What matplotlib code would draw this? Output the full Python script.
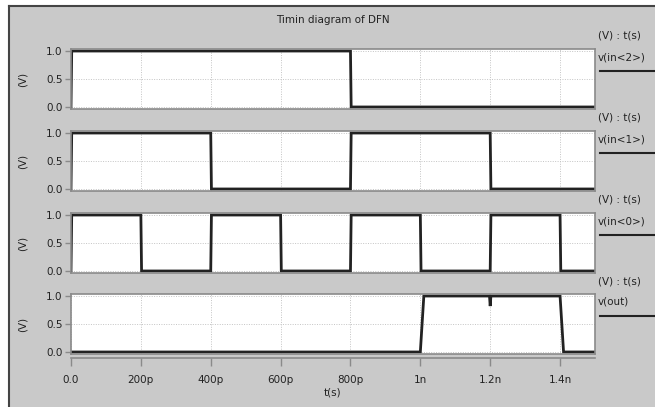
import matplotlib
matplotlib.use("Agg")
import matplotlib.pyplot as plt
from matplotlib.patches import Rectangle
from matplotlib.lines import Line2D

plt.rcParams['font.family'] = ['DejaVu Sans']

title = "Timin diagram of DFN"
signal_names = ["v(in<2>)", "v(in<1>)", "v(in<0>)", "v(out)"]

# time (s) and voltage (V) points of each waveform
t_in2 = [0, 2e-12, 800e-12, 802e-12, 1.5e-9]
v_in2 = [0, 1, 1, 0, 0]

t_in1 = [0, 2e-12, 400e-12, 402e-12, 800e-12, 802e-12, 1200e-12, 1202e-12, 1.5e-9]
v_in1 = [0, 1, 1, 0, 0, 1, 1, 0, 0]

t_in0 = [0, 2e-12, 200e-12, 202e-12, 400e-12, 402e-12, 600e-12, 602e-12,
         800e-12, 802e-12, 1000e-12, 1002e-12, 1200e-12, 1202e-12,
         1400e-12, 1402e-12, 1.5e-9]
v_in0 = [0, 1, 1, 0, 0, 1, 1, 0, 0, 1, 1, 0, 0, 1, 1, 0, 0]

t_out = [0, 1000e-12, 1010e-12, 1198e-12, 1200e-12, 1202e-12, 1400e-12, 1410e-12, 1.5e-9]
v_out = [0, 0, 1, 1, 0.82, 1, 1, 0, 0]

series = [(t_in2, v_in2), (t_in1, v_in1), (t_in0, v_in0), (t_out, v_out)]

x_ticks = [0, 200e-12, 400e-12, 600e-12, 800e-12, 1e-9, 1.2e-9, 1.4e-9]
x_tick_labels = ["0.0", "200p", "400p", "600p", "800p", "1n", "1.2n", "1.4n"]
y_ticks = [0.0, 0.5, 1.0]
y_tick_labels = ["0.0", "0.5", "1.0"]

W, H = 655, 407
fig = plt.figure(figsize=(W / 100, H / 100), dpi=100)
fig.patch.set_facecolor("white")

# gray window background with dark top/left border
bg = Rectangle((9 / W, 0), 1 - 9 / W, (H - 6) / H, transform=fig.transFigure,
               facecolor="#c9c9c9", edgecolor="none", zorder=-10)
fig.patches.append(bg)
fig.add_artist(Line2D([9 / W, 9 / W], [0, (H - 6) / H], color="#444444", lw=1.5,
                      transform=fig.transFigure))
fig.add_artist(Line2D([9 / W, 1], [(H - 6) / H, (H - 6) / H], color="#444444", lw=1.5,
                      transform=fig.transFigure))

left_px, right_px = 71, 595
tops = [49, 131, 213, 294]
ph = 60
gray = "#8a8a8a"
txt = "#222222"
fs = 7.5

axes = []
for i, (top, (t, v)) in enumerate(zip(tops, series)):
    ax = fig.add_axes([left_px / W, (H - top - ph) / H, (right_px - left_px) / W, ph / H])
    ax.set_facecolor("white")
    ax.plot(t, v, color="#222222", lw=2.0, solid_joinstyle="miter")
    ax.set_xlim(0, 1.5e-9)
    ax.set_ylim(-0.036, 1.036)
    ax.set_xticks(x_ticks)
    ax.set_yticks(y_ticks)
    ax.set_yticklabels(y_tick_labels)
    ax.tick_params(axis="y", direction="out", length=4, color=gray, labelsize=fs,
                   labelcolor=txt, width=1, pad=2)
    ax.tick_params(axis="x", bottom=False, labelbottom=False)
    ax.grid(True, color="#c4c4c4", linestyle=(0, (1, 1.5)), linewidth=0.7)
    for s in ax.spines.values():
        s.set_color(gray)
        s.set_linewidth(1.2)
    ax.set_ylabel("(V)", fontsize=fs, color=txt, labelpad=13)
    # right-hand labels
    fig.text(598 / W, (H - (top - 13)) / H, "(V) : t(s)", fontsize=fs, color=txt,
             va="center", ha="left")
    fig.text(598 / W, (H - (top + 8)) / H, signal_names[i], fontsize=fs, color=txt,
             va="center", ha="left")
    fig.add_artist(Line2D([600 / W, 1], [(H - (top + 22)) / H] * 2, color="#222222",
                          lw=1.5, transform=fig.transFigure))
    axes.append(ax)

ax4 = axes[-1]
sec = ax4.secondary_xaxis(-0.07)
sec.set_xticks(x_ticks)
sec.set_xticklabels(x_tick_labels)
sec.tick_params(axis="x", direction="out", length=6, color=gray, labelsize=fs,
                labelcolor=txt, width=1, pad=6)
sec.spines["bottom"].set_color(gray)
sec.spines["bottom"].set_linewidth(1.2)
sec.set_xlabel("t(s)", fontsize=fs, color=txt, labelpad=2)

fig.text((left_px + right_px) / 2 / W, (H - 20) / H, title, fontsize=fs, color=txt,
         ha="center", va="center")

fig.savefig("out.png", dpi=100, facecolor=fig.get_facecolor())
